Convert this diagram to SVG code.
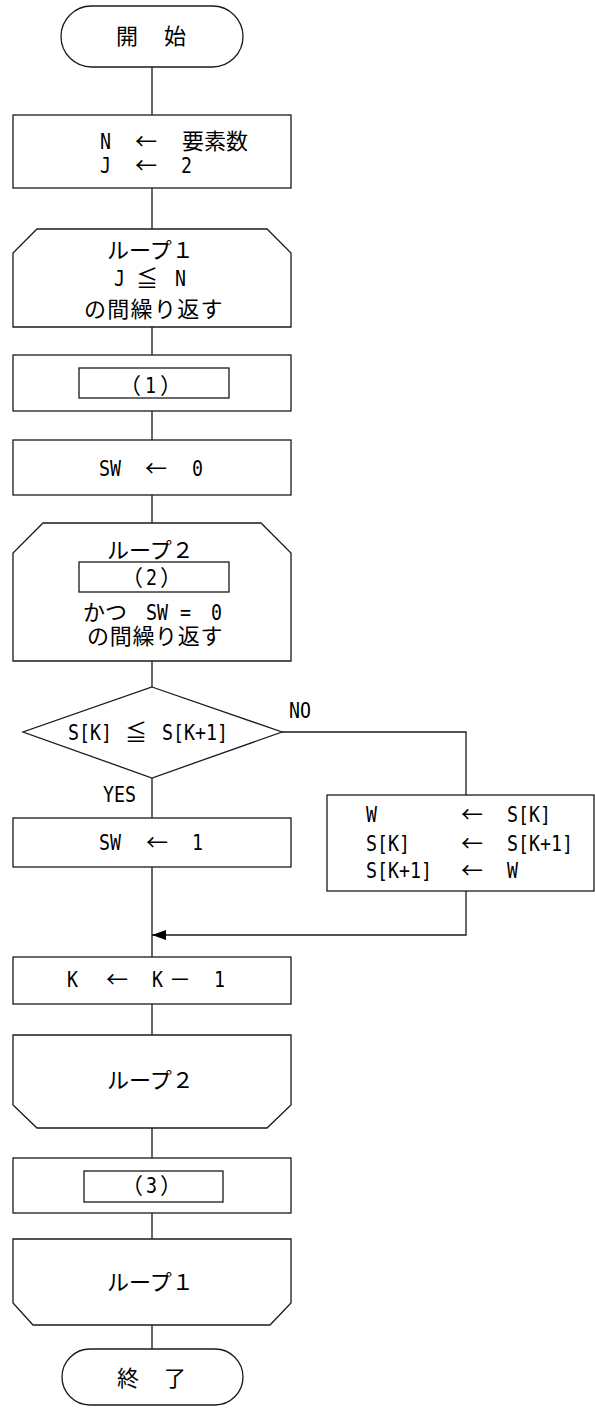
<svg xmlns="http://www.w3.org/2000/svg" width="595" height="1409" viewBox="0 0 595 1409">
<style>
.s{fill:#fff;stroke:#1a1a1a;stroke-width:1.3}
.c{fill:none;stroke:#1a1a1a;stroke-width:1.3}
.j{font-family:"Noto Sans CJK JP","Noto Sans CJK SC",sans-serif;font-size:22px;fill:#000}
.m{font-family:"DejaVu Sans Mono","Liberation Mono",monospace;font-size:22px;fill:#000}
</style>
<defs>
<marker id="ah" viewBox="0 0 14 10" markerWidth="14" markerHeight="10" refX="14" refY="5" orient="auto" markerUnits="userSpaceOnUse">
<path d="M0,0 L14,5 L0,10 z" fill="#000"/>
</marker>
</defs>
<rect width="595" height="1409" fill="#fff"/>
<g id="connectors">
<path class="c" d="M152,67 V115 M152,188 V229 M152,327 V355 M152,411 V440 M152,495 V523 M152,661 V687 M152,778 V818 M152,867 V957 M152,1004 V1035 M152,1128 V1158 M152,1213 V1239 M152,1325 V1349"/>
<path class="c" d="M282,732 H466 V795"/>
<path class="c" d="M466,891 V935 H152" marker-end="url(#ah)"/>
<text class="m" x="289" y="718" textLength="22" lengthAdjust="spacingAndGlyphs">NO</text>
<text class="m" x="103" y="802" textLength="33" lengthAdjust="spacingAndGlyphs">YES</text>
</g>
<g id="start">
<rect class="s" x="61" y="6" width="182" height="61" rx="30.5"/>
<text class="j" x="116" y="44">開</text>
<text class="j" x="164" y="44">始</text>
</g>
<g id="init">
<rect class="s" x="13" y="115" width="278" height="73"/>
<text class="m" x="100" y="149" textLength="11" lengthAdjust="spacingAndGlyphs">N</text>
<text class="j" x="135" y="149">←</text>
<text class="j" x="182" y="149">要素数</text>
<text class="m" x="100" y="173" textLength="11" lengthAdjust="spacingAndGlyphs">J</text>
<text class="j" x="135" y="173">←</text>
<text class="m" x="181" y="173" textLength="11" lengthAdjust="spacingAndGlyphs">2</text>
</g>
<g id="loop1-start">
<polygon class="s" points="13,327 13,253 37,229 267,229 291,253 291,327"/>
<text class="j" x="107" y="257.5">ループ１</text>
<text class="m" x="114" y="286" textLength="11" lengthAdjust="spacingAndGlyphs">J</text>
<text class="j" x="136" y="286">≦</text>
<text class="m" x="175" y="286" textLength="11" lengthAdjust="spacingAndGlyphs">N</text>
<text class="j" x="84" y="316.5" letter-spacing="1.3">の間繰り返す</text>
</g>
<g id="blank1">
<rect class="s" x="13" y="355" width="278" height="56"/>
<rect class="s" x="79" y="368" width="150" height="30"/>
<text class="j" x="119" y="392.5">（</text>
<text class="m" x="145" y="392.5" textLength="11" lengthAdjust="spacingAndGlyphs">1</text>
<text class="j" x="160" y="392.5">）</text>
</g>
<g id="sw0">
<rect class="s" x="13" y="440" width="278" height="55"/>
<text class="m" x="99" y="475.5" textLength="22" lengthAdjust="spacingAndGlyphs">SW</text>
<text class="j" x="145" y="475.5">←</text>
<text class="m" x="192" y="475.5" textLength="11" lengthAdjust="spacingAndGlyphs">0</text>
</g>
<g id="loop2-start">
<polygon class="s" points="13,661 13,553 43,523 261,523 291,553 291,661"/>
<text class="j" x="107" y="558">ループ２</text>
<rect class="s" x="79" y="562" width="150" height="30"/>
<text class="j" x="121" y="585">（</text>
<text class="m" x="146" y="585" textLength="11" lengthAdjust="spacingAndGlyphs">2</text>
<text class="j" x="160" y="585">）</text>
<text class="j" x="83" y="620">かつ</text>
<text class="m" x="146" y="620" textLength="22" lengthAdjust="spacingAndGlyphs">SW</text>
<text class="m" x="180" y="620" textLength="11" lengthAdjust="spacingAndGlyphs">=</text>
<text class="m" x="211" y="620" textLength="11" lengthAdjust="spacingAndGlyphs">0</text>
<text class="j" x="87" y="644" letter-spacing="0.7">の間繰り返す</text>
</g>
<g id="decision">
<polygon class="s" points="152,687 282,732 152,778 23,732"/>
<text class="m" x="68" y="740" textLength="44" lengthAdjust="spacingAndGlyphs">S[K]</text>
<text class="j" x="125" y="740">≦</text>
<text class="m" x="162" y="740" textLength="66" lengthAdjust="spacingAndGlyphs">S[K+1]</text>
</g>
<g id="sw1">
<rect class="s" x="13" y="818" width="278" height="49"/>
<text class="m" x="99" y="850" textLength="22" lengthAdjust="spacingAndGlyphs">SW</text>
<text class="j" x="146" y="850">←</text>
<text class="m" x="192" y="850" textLength="11" lengthAdjust="spacingAndGlyphs">1</text>
</g>
<g id="swap">
<rect class="s" x="327" y="795" width="267" height="96"/>
<text class="m" x="366" y="822" textLength="11" lengthAdjust="spacingAndGlyphs">W</text>
<text class="j" x="461" y="822">←</text>
<text class="m" x="507" y="822" textLength="44" lengthAdjust="spacingAndGlyphs">S[K]</text>
<text class="m" x="366" y="851" textLength="44" lengthAdjust="spacingAndGlyphs">S[K]</text>
<text class="j" x="461" y="851">←</text>
<text class="m" x="507" y="851" textLength="66" lengthAdjust="spacingAndGlyphs">S[K+1]</text>
<text class="m" x="366" y="878" textLength="66" lengthAdjust="spacingAndGlyphs">S[K+1]</text>
<text class="j" x="461" y="878">←</text>
<text class="m" x="507" y="878" textLength="11" lengthAdjust="spacingAndGlyphs">W</text>
</g>
<g id="dec-k">
<rect class="s" x="13" y="957" width="278" height="47"/>
<text class="m" x="67" y="987" textLength="11" lengthAdjust="spacingAndGlyphs">K</text>
<text class="j" x="106" y="987">←</text>
<text class="m" x="152" y="987" textLength="11" lengthAdjust="spacingAndGlyphs">K</text>
<text class="j" x="169" y="987">－</text>
<text class="m" x="214" y="987" textLength="11" lengthAdjust="spacingAndGlyphs">1</text>
</g>
<g id="loop2-end">
<polygon class="s" points="13,1035 291,1035 291,1105 267,1128 37,1128 13,1105"/>
<text class="j" x="107" y="1088">ループ２</text>
</g>
<g id="blank3">
<rect class="s" x="13" y="1158" width="278" height="55"/>
<rect class="s" x="84" y="1171" width="139" height="31"/>
<text class="j" x="121" y="1193">（</text>
<text class="m" x="146" y="1193" textLength="11" lengthAdjust="spacingAndGlyphs">3</text>
<text class="j" x="160" y="1193">）</text>
</g>
<g id="loop1-end">
<polygon class="s" points="13,1239 291,1239 291,1303 270,1325 33,1325 13,1303"/>
<text class="j" x="107" y="1290">ループ１</text>
</g>
<g id="end">
<rect class="s" x="62" y="1349" width="181" height="56" rx="28"/>
<text class="j" x="117" y="1386">終</text>
<text class="j" x="164" y="1386">了</text>
</g>
</svg>
